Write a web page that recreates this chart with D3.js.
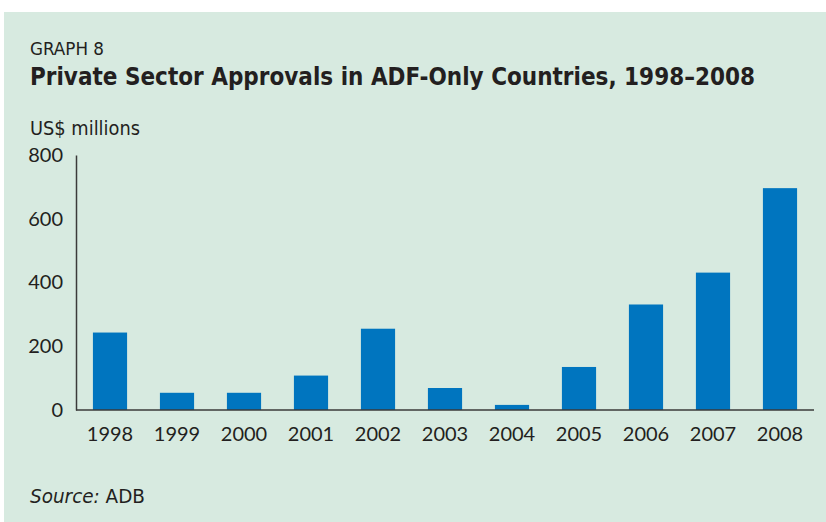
<!DOCTYPE html>
<html>
<head>
<meta charset="utf-8">
<script src="https://cdn.jsdelivr.net/npm/d3@7"></script>
<style>
  body { margin: 0; background: #fff; }
  svg { display: block; }
</style>
</head>
<body>
<svg id="chart" width="826" height="522"></svg>
<script>
// Chart data
const years = ["1998", "1999", "2000", "2001", "2002", "2003", "2004", "2005", "2006", "2007", "2008"];
const approvals = [243, 54, 54, 108, 255, 69, 16, 135, 331, 431, 696];
const yTicks = [0, 200, 400, 600, 800];

const svg = d3.select("#chart");
const ink = "#231f20";
const narrow = "'Liberation Sans Narrow', 'DejaVu Sans Condensed', 'Liberation Sans', sans-serif";
const body = "Lato, 'Open Sans', sans-serif";

// Panel background
svg.append("rect")
  .attr("x", 4).attr("y", 12)
  .attr("width", 822).attr("height", 510)
  .attr("fill", "#d7eae0");

// Headings
svg.append("text")
  .attr("x", 30).attr("y", 55)
  .attr("font-family", narrow).attr("font-size", 17)
  .attr("fill", ink)
  .attr("textLength", 74).attr("lengthAdjust", "spacingAndGlyphs")
  .text("GRAPH 8");

svg.append("text")
  .attr("x", 30).attr("y", 85)
  .attr("font-family", narrow).attr("font-size", 24).attr("font-weight", "bold")
  .attr("fill", ink)
  .attr("textLength", 725).attr("lengthAdjust", "spacingAndGlyphs")
  .text("Private Sector Approvals in ADF-Only Countries, 1998–2008");

svg.append("text")
  .attr("x", 30).attr("y", 135)
  .attr("font-family", narrow).attr("font-size", 20)
  .attr("fill", ink)
  .attr("textLength", 110).attr("lengthAdjust", "spacingAndGlyphs")
  .text("US$ millions");

// Scales
const x = d3.scaleBand()
  .domain(years)
  .range([76, 814])
  .paddingInner(0.49)
  .paddingOuter(0.2525);

const y = d3.scaleLinear()
  .domain([0, 800])
  .range([410, 155]);

// Bars
svg.append("g")
  .selectAll("rect")
  .data(years)
  .join("rect")
  .attr("x", (d) => x(d))
  .attr("y", (d, i) => y(approvals[i]))
  .attr("width", x.bandwidth())
  .attr("height", (d, i) => y(0) - y(approvals[i]))
  .attr("fill", "#0075bf");

// Y axis
const yAxis = svg.append("g")
  .attr("transform", "translate(76,0)")
  .call(d3.axisLeft(y).tickValues(yTicks).tickSize(0).tickPadding(13));
yAxis.select(".domain").attr("stroke", "#3a3a3a").attr("stroke-width", 1.5);
yAxis.selectAll("text")
  .attr("font-family", body).attr("font-size", 20)
  .attr("fill", ink);

// X axis
const xAxis = svg.append("g")
  .attr("transform", "translate(0,410)")
  .call(d3.axisBottom(x).tickSize(0).tickPadding(17));
xAxis.select(".domain").remove();
xAxis.selectAll("text")
  .attr("font-family", body).attr("font-size", 20)
  .attr("fill", ink);

svg.append("line")
  .attr("x1", 76).attr("x2", 814)
  .attr("y1", 410).attr("y2", 410)
  .attr("stroke", "#3a3a3a").attr("stroke-width", 1.5);

// Source note
const source = svg.append("text")
  .attr("x", 30).attr("y", 503)
  .attr("font-family", narrow).attr("font-size", 19)
  .attr("fill", ink)
  .attr("textLength", 115).attr("lengthAdjust", "spacingAndGlyphs");
source.append("tspan").attr("font-style", "italic").text("Source:");
source.append("tspan").text(" ADB");
</script>
</body>
</html>
